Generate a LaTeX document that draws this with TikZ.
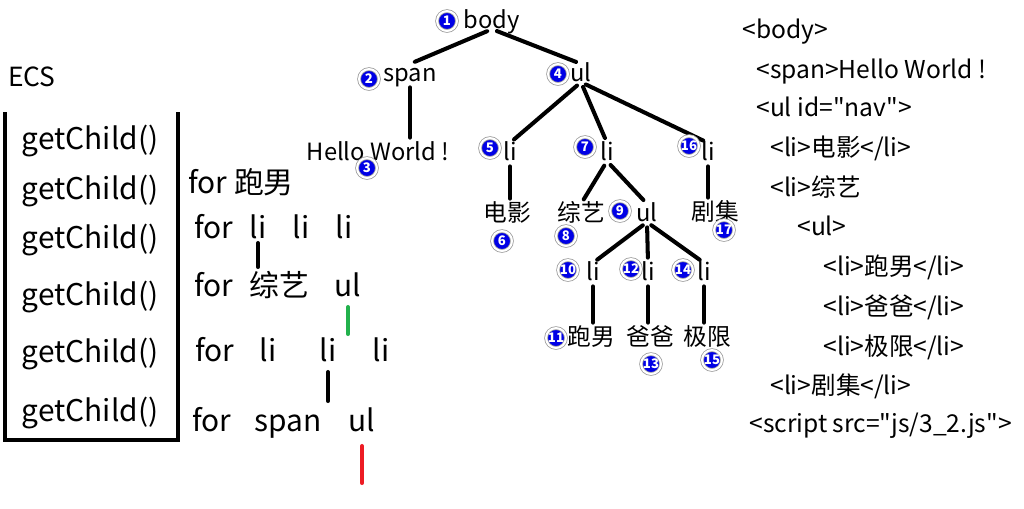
\documentclass[tikz,border=0pt]{standalone}
\usepackage{fontspec}
\setmainfont{Noto Sans CJK SC}
\usetikzlibrary{shadows}

\definecolor{numblue}{RGB}{0,0,230}
\definecolor{stepgreen}{RGB}{34,177,76}
\definecolor{stepred}{RGB}{237,28,36}

\begin{document}
\begin{tikzpicture}[
  x=0.02cm,y=-0.02cm,
  line cap=round,
  every node/.style={inner sep=0pt},
  lbl/.style={text height=1em,text depth=0em},
  tag/.style={lbl,font=\fontsize{13.5}{14}\selectfont},
  call/.style={lbl,font=\fontsize{17}{18}\selectfont},
  loopword/.style={lbl,font=\fontsize{17}{18}\selectfont},
  code/.style={lbl,font=\fontsize{14}{15}\selectfont,anchor=west},
  badge/.style={circle,fill=numblue,draw=gray!75,double=white,double distance=1.2pt,
    line width=0.45pt,minimum size=11.3pt,
    text=white,font=\fontsize{7.5}{7.5}\selectfont\bfseries,
    drop shadow={shadow xshift=0.5pt,shadow yshift=-0.5pt,opacity=0.35}},
  branch/.style={line width=2.3pt,shorten <=3pt,shorten >=3pt},
  mark line/.style={line width=2.3pt},
]
\useasboundingbox (0,0) rectangle (1024,508);

% ECS stack
\node[lbl,font=\fontsize{15}{16}\selectfont] (ecs) at (32,78) {ECS};
\draw[line width=2.3pt,line cap=butt] (5,112) -- (5,440) -- (178,440) -- (178,112);
\foreach \y [count=\i] in {141,191,240,297,354,413}
  \node[call] (gc\i) at (90,\y) {getChild()};

% loop rows
\node[loopword,anchor=west] (f1) at (188,185) {for 跑男};
\node[loopword,anchor=west] (f2) at (194,230) {for};
\node[loopword] (r2a) at (258,230) {li};
\node[loopword] (r2b) at (301,230) {li};
\node[loopword] (r2c) at (344,230) {li};
\node[loopword,anchor=west] (f3) at (194,288) {for};
\node[loopword] (r3a) at (279,288) {综艺};
\node[loopword] (r3b) at (348,288) {ul};
\node[loopword,anchor=west] (f4) at (195,353) {for};
\node[loopword] (r4a) at (268,353) {li};
\node[loopword] (r4b) at (328,353) {li};
\node[loopword] (r4c) at (381,353) {li};
\node[loopword,anchor=west] (f5) at (192,423) {for};
\node[loopword] (r5a) at (288,423) {span};
\node[loopword] (r5b) at (362,423) {ul};
\coordinate (redend) at (362,483);

\draw[mark line] (r2a |- 0,243) -- (r2a |- 0,267);
\draw[mark line,stepgreen] (r3b |- 0,307) -- (r3b |- 0,334);
\draw[mark line] (r4b |- 0,372) -- (r4b |- 0,401);
\draw[mark line,stepred] (r5b |- 0,446) -- (redend);

% DOM tree
\node[tag] (body) at (492,20) {body};
\node[tag] (span) at (410,73) {span};
\node[tag] (ul) at (581,73) {ul};
\node[tag] (hello) at (378,152) {Hello World !};
\node[tag] (li5) at (510,152) {li};
\node[tag] (li7) at (607,152) {li};
\node[tag] (li16) at (708,152) {li};
\node[tag] (dy) at (507,213) {电影};
\node[tag] (zy) at (581,213) {综艺};
\node[tag] (ul9) at (647,213) {ul};
\node[tag] (jj) at (715,212) {剧集};
\node[tag] (li10) at (593,272) {li};
\node[tag] (li12) at (648,272) {li};
\node[tag] (li14) at (704,272) {li};
\node[tag] (pn) at (591,337) {跑男};
\node[tag] (bb) at (650,337) {爸爸};
\node[tag] (jx) at (707,337) {极限};

\draw[branch] (body.south) -- (span.north);
\draw[branch] (body.south) -- (ul.north);
\draw[branch] (span.south) -- (span.south |- hello.north);
\draw[branch] (ul.south) -- (li5.north);
\draw[branch] (ul.south) -- (li7.north);
\draw[branch] (ul.south) -- (li16.north);
\draw[branch] (li5.south) -- (li5.south |- dy.north);
\draw[branch] (li7.south) -- (zy.north);
\draw[branch] (li7.south) -- (ul9.north);
\draw[branch] (li16.south) -- (li16.south |- jj.north);
\draw[branch] (ul9.south) -- (li10.north);
\draw[branch] (ul9.south) -- (li12.north);
\draw[branch] (ul9.south) -- (li14.north);
\draw[branch] (li10.south) -- (li10.south |- pn.north);
\draw[branch] (li12.south) -- (li12.south |- bb.north);
\draw[branch] (li14.south) -- (li14.south |- jx.north);

% visiting order
\foreach \n/\x/\y in {1/447/21,2/369/79,3/367/168,4/558/74,5/490/148,6/502/241,
    7/585/147,8/566/236,9/620/211,10/568/270,11/556/338,12/631/269,13/651/364,
    14/683/270,15/712/360,16/689/146,17/724/230}
  \node[badge] (b\n) at (\x,\y) {\n};

% source
\node[code] (c1) at (742,30) {<body>};
\node[code] (c2) at (756,70) {<span>Hello World !};
\node[code] (c3) at (756,108) {<ul id=\textquotedbl nav\textquotedbl>};
\node[code] (c4) at (770,148) {<li>电影</li>};
\node[code] (c5) at (770,188) {<li>综艺};
\node[code] (c6) at (797,227) {<ul>};
\node[code] (c7) at (823,267) {<li>跑男</li>};
\node[code] (c8) at (823,307) {<li>爸爸</li>};
\node[code] (c9) at (823,347) {<li>极限</li>};
\node[code] (c10) at (770,386) {<li>剧集</li>};
\node[code] (c11) at (749,424) {<script src=\textquotedbl js/3\_2.js\textquotedbl>};
\end{tikzpicture}
\end{document}
